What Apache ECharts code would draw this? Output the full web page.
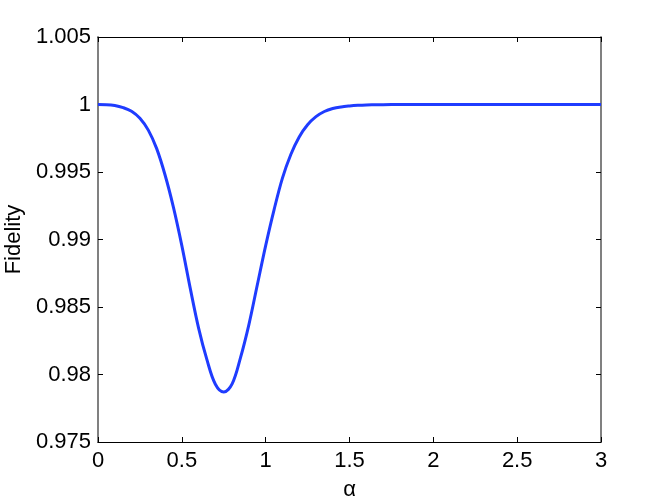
<!DOCTYPE html>
<html>
<head>
<meta charset="utf-8">
<script src="https://cdn.jsdelivr.net/npm/echarts@6/dist/echarts.min.js"></script>
<style>
html,body{margin:0;padding:0;background:#fff;}
#chart{width:664px;height:500px;}
</style>
</head>
<body>
<div id="chart"></div>
<script>
var alpha = [0,0.05,0.10,0.15,0.20,0.25,0.30,0.35,0.40,0.45,0.50,0.55,0.60,0.65,0.70,0.75,0.80,0.85,0.90,0.95,1.00,1.05,1.10,1.15,1.20,1.25,1.30,1.35,1.40,1.45,1.50,1.55,1.60,1.65,1.70,1.80,1.90,2.00,2.20,2.40,2.60,2.80,3.00];
var fidelity = [1.0000,0.99999,0.99993,0.99977,0.99950,0.99898,0.99810,0.99673,0.99478,0.99238,0.98955,0.98640,0.98344,0.98108,0.97928,0.97870,0.97930,0.98125,0.98370,0.98663,0.98955,0.99220,0.99455,0.99630,0.99760,0.99850,0.99910,0.99948,0.99970,0.99982,0.99989,0.99994,0.99997,0.99998,0.99999,1.0000,1.0000,1.0000,1.0000,1.0000,1.0000,1.0000,1.0000];
var xTicks = [0,0.5,1,1.5,2,2.5,3];
var yTicks = [0.975,0.98,0.985,0.99,0.995,1,1.005];

var FONT = 'Liberation Sans, Arial, Helvetica, sans-serif';
var chart = echarts.init(document.getElementById('chart'), null, {renderer:'canvas'});
var pts = alpha.map(function(a,i){return [a, fidelity[i]];});
var tickStyle = {show:true, inside:true, length:5, lineStyle:{color:'#000', width:1}};
chart.setOption({
  animation:false,
  backgroundColor:'#fff',
  grid:{left:98, right:63, top:37, bottom:58, show:false, containLabel:false, outerBoundsMode:'none'},
  xAxis:[{
    type:'value', min:xTicks[0], max:xTicks[xTicks.length-1], interval:0.5,
    name:'α', nameLocation:'middle', nameGap:37,
    nameTextStyle:{fontSize:22, color:'#000', fontFamily:FONT},
    axisLine:{show:true, onZero:false, lineStyle:{color:'#000', width:1}},
    axisTick:tickStyle,
    axisLabel:{fontSize:22, color:'#000', fontFamily:FONT, margin:8,
      formatter:function(v){return String(+v.toFixed(2));}},
    splitLine:{show:false}
  },{
    type:'value', position:'top', min:xTicks[0], max:xTicks[xTicks.length-1], interval:0.5,
    axisLine:{show:true, onZero:false, lineStyle:{color:'#000', width:1}},
    axisTick:tickStyle, axisLabel:{show:false}, splitLine:{show:false}
  }],
  yAxis:[{
    type:'value', min:yTicks[0], max:yTicks[yTicks.length-1], interval:0.005,
    name:'Fidelity', nameLocation:'middle', nameGap:66, nameRotate:90,
    nameTextStyle:{fontSize:22, color:'#000', fontFamily:FONT},
    axisLine:{show:true, onZero:false, lineStyle:{color:'#808080', width:2}},
    axisTick:tickStyle,
    axisLabel:{fontSize:22, color:'#000', fontFamily:FONT, margin:7,
      formatter:function(v){return String(+v.toFixed(3));}},
    splitLine:{show:false}
  },{
    type:'value', position:'right', min:yTicks[0], max:yTicks[yTicks.length-1], interval:0.005,
    axisLine:{show:true, onZero:false, lineStyle:{color:'#808080', width:2}},
    axisTick:tickStyle, axisLabel:{show:false}, splitLine:{show:false}
  }],
  series:[{
    type:'line', xAxisIndex:0, yAxisIndex:0, data:pts,
    showSymbol:false, smooth:0.35,
    lineStyle:{color:'#1f3cff', width:3}
  }]
});
</script>
</body>
</html>
